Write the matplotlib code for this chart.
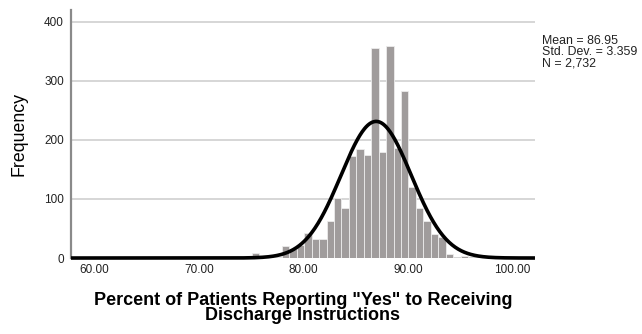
import numpy as np
import matplotlib.pyplot as plt

plt.rcParams['font.family'] = ['Liberation Sans', 'DejaVu Sans']

# histogram data
bin_start = 75.07
bin_width = 0.713
counts = [9, 4, 1, 2, 21, 15, 22, 43, 33, 33, 63, 102, 85, 173, 185, 175,
          356, 180, 359, 186, 283, 120, 84, 62, 40, 36, 7, 0, 4]

mean = 86.95
sd = 3.359
n = 2732

x_ticks = [60, 70, 80, 90, 100]
y_ticks = [0, 100, 200, 300, 400]

fig = plt.figure(figsize=(6.42, 3.34), dpi=100)
ax = fig.add_axes([0.1106, 0.2275, 0.7227, 0.7425])

edges = bin_start + bin_width * np.arange(len(counts))
ax.bar(edges, counts, width=bin_width, align='edge', color='#a09c9c',
       edgecolor='#ececec', linewidth=0.6, zorder=2)

xs = np.linspace(57.75, 102.15, 600)
ys = n * bin_width / (sd * np.sqrt(2 * np.pi)) * np.exp(-0.5 * ((xs - mean) / sd) ** 2)
ax.plot(xs, ys, color='black', lw=2.6, zorder=3, clip_on=False,
        solid_capstyle='butt')

ax.set_xlim(57.75, 102.15)
ax.set_ylim(0, 420)
ax.set_xticks(x_ticks)
ax.set_xticklabels(['%.2f' % v for v in x_ticks])
ax.set_yticks(y_ticks)
ax.tick_params(length=0, labelsize=8.5, labelcolor='#222222', pad=5)
ax.tick_params(axis='x', pad=4)

for s in ['top', 'right', 'bottom']:
    ax.spines[s].set_visible(False)
ax.spines['left'].set_color('#8a8a8a')
ax.spines['left'].set_linewidth(1.6)

ax.grid(axis='y', color='#cfcfcf', lw=1.2, zorder=0)
ax.set_axisbelow(True)

ax.set_ylabel('Frequency', fontsize=12.8, labelpad=12)
ax.set_xlabel('Percent of Patients Reporting "Yes" to Receiving\nDischarge Instructions',
              fontsize=13, fontweight='bold', labelpad=12, linespacing=0.82)

fig.text(0.844, 0.895, 'Mean = 86.95\nStd. Dev. = 3.359\nN = 2,732',
         fontsize=8.9, va='top', ha='left', linespacing=0.92, color='#222222')

fig.savefig('out.png', dpi=100)
